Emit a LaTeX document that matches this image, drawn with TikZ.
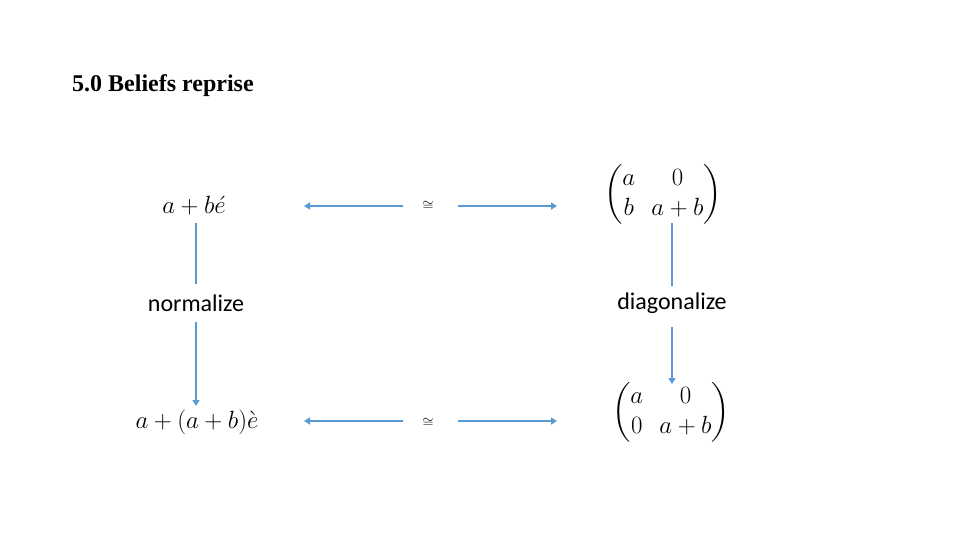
\documentclass[tikz,border=0pt]{standalone}
\usepackage{amsmath}
\usepackage{fontspec}
\setmainfont{Liberation Serif}
\newfontfamily\calfont{Carlito}
\usetikzlibrary{arrows.meta}
\definecolor{arrowblue}{HTML}{5B9BD5}
\tikzset{
  conn/.style={draw=arrowblue, line width=2.4pt, -{Triangle[width=7pt,length=6pt]}},
  plainconn/.style={draw=arrowblue, line width=2.4pt},
  mathlabel/.style={inner sep=0pt, font=\fontsize{25}{30}\selectfont},
  wordlabel/.style={inner sep=0pt, font=\calfont\fontsize{24}{28}\selectfont},
  conglabel/.style={inner sep=0pt, font=\fontsize{15}{18}\selectfont},
}
\begin{document}
\begin{tikzpicture}[x=1pt,y=-1pt]
\useasboundingbox (0,0) rectangle (960,540);
\node[anchor=west, inner sep=0pt, font=\bfseries\fontsize{24}{28}\selectfont] (title) at (72,86) {5.0 Beliefs reprise};

% corner objects
\node[mathlabel] (tl) at (194,206) {$a + b\acute{e}$};
\node[mathlabel] (tr) at (663,194) {$\begin{pmatrix} a & \ 0\\ b & \ a+b\end{pmatrix}$};
\node[mathlabel] (bl) at (197,422) {$a + (a+b)\grave{e}$};
\node[mathlabel] (br) at (671,412) {$\begin{pmatrix} a & \ 0\\ 0 & \ a+b\end{pmatrix}$};

% isomorphism labels
\node[conglabel] (ctop) at (428,206) {$\cong$};
\node[conglabel] (cbot) at (428,423) {$\cong$};

% vertical labels
\node[wordlabel] (norm) at (196,303) {normalize};
\node[wordlabel] (diag) at (672,303) {diagonalize};

% coordinates for free ends
\coordinate (tla) at (403,206);
\coordinate (tlb) at (304,206);
\coordinate (tra) at (458,206);
\coordinate (trb) at (557,206);
\coordinate (bla) at (403,421);
\coordinate (blb) at (304,421);
\coordinate (bra) at (458,421);
\coordinate (brb) at (557,421);
\coordinate (lv1) at (196,223);
\coordinate (lv2) at (196,284);
\coordinate (lv3) at (196,322);
\coordinate (lv4) at (196,406);
\coordinate (rv1) at (672,223);
\coordinate (rv2) at (672,286);
\coordinate (rv3) at (672,327);
\coordinate (rv4) at (672,384);

\draw[conn] (tla) -- (tlb);
\draw[conn] (tra) -- (trb);
\draw[conn] (bla) -- (blb);
\draw[conn] (bra) -- (brb);
\draw[plainconn] (lv1) -- (lv2);
\draw[conn] (lv3) -- (lv4);
\draw[plainconn] (rv1) -- (rv2);
\draw[conn] (rv3) -- (rv4);
\end{tikzpicture}
\end{document}
